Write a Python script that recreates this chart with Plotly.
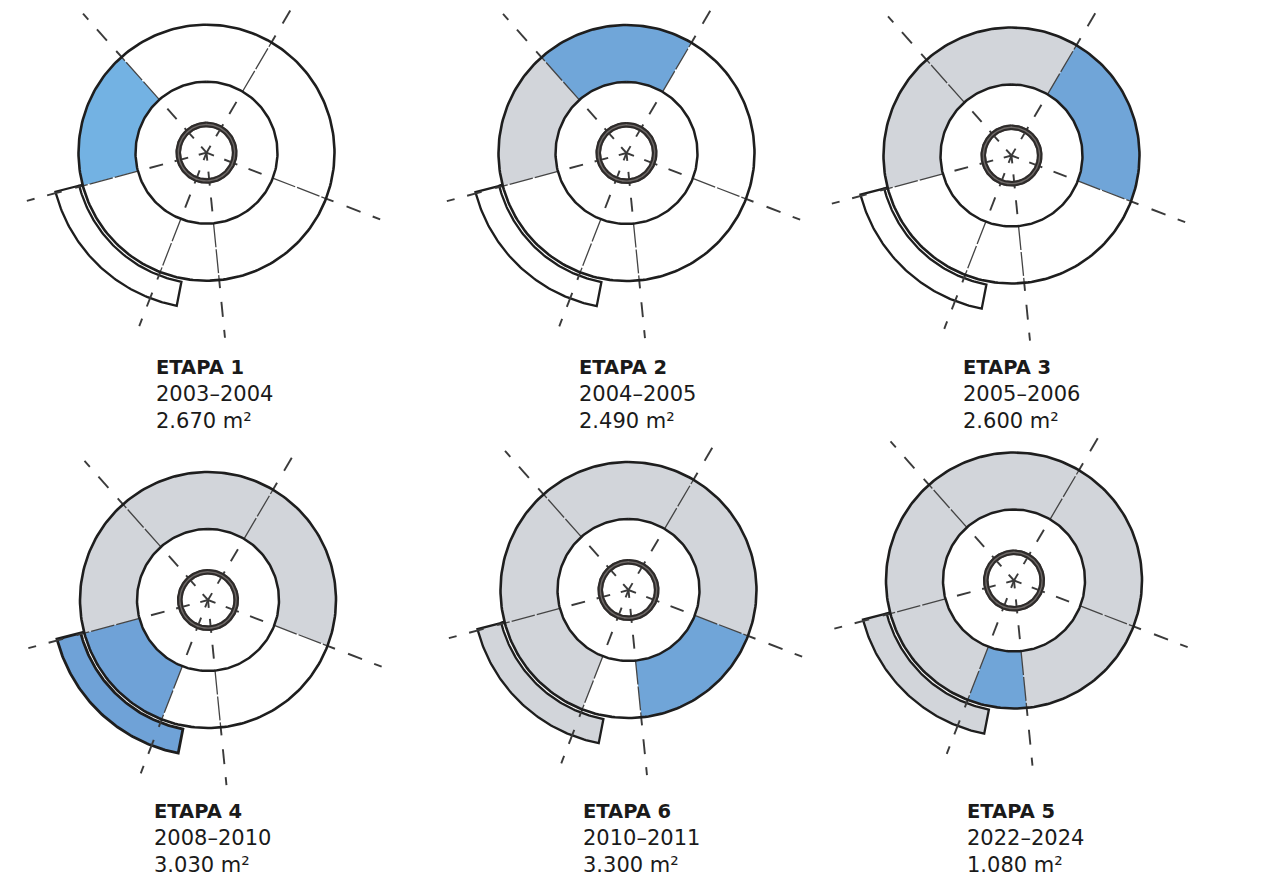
import numpy as np
import plotly.graph_objects as go

W, H = 1267, 879

# panels: label, years, area, centre x, centre y, text x, first text y
labels = ["ETAPA 1", "ETAPA 2", "ETAPA 3", "ETAPA 4", "ETAPA 6", "ETAPA 5"]
years = ["2003–2004", "2004–2005", "2005–2006", "2008–2010", "2010–2011", "2022–2024"]
areas = ["2.670 m²", "2.490 m²", "2.600 m²", "3.030 m²", "3.300 m²", "1.080 m²"]
centre_x = [206.5, 626.5, 1011.5, 208, 628.5, 1014]
centre_y = [152.7, 153, 155.5, 600, 590, 580.5]
text_x = [154, 577, 961, 152, 581, 965]
text_y = [367, 367, 367, 811, 811, 811]

# ring sectors, clockwise from north
sector_start = [255, 318.4, 30.5, 111, 174.3, 201.2]
sector_end = [318.4, 390.5, 111, 174.3, 201.2, 255]
# state per panel per sector: 0 white, 1 grey (built), 2 blue (current)
sector_states = [
    [2, 0, 0, 0, 0, 0],
    [1, 2, 0, 0, 0, 0],
    [1, 1, 2, 0, 0, 0],
    [1, 1, 1, 0, 0, 2],
    [1, 1, 1, 2, 0, 1],
    [1, 1, 1, 1, 2, 1],
]
annex_states = [0, 0, 0, 2, 1, 1]
blue_per_panel = ["#73B2E3", "#70A6D9", "#70A5D8", "#6FA2D7", "#70A5D8", "#70A5D8"]
state_grey = "#D2D5DA"

R_MID, R_OUTER = 71, 128
R_CORE_IN, R_CORE_OUT = 26.5, 30
ANNEX_R_IN, ANNEX_R_OUT = 131.5, 156
ANNEX_T0, ANNEX_T1 = 255.5, 191

spoke_angles = [318.4, 30.5, 111, 174.3, 201.2, 255]
spoke_limits = [186, 166, 186, 186, 186, 186]
dash_segments = [(0, 8), (19, 33), (45, 59), (128, 136), (150, 165), (178, 186)]
thin_segment = (71, 128)

INK = "#1E1E1E"
fig = go.Figure()


def polar_xy(cx, cy, r, theta):
    """radius + clockwise-from-north angle to page-scale x, y"""
    r = np.asarray(r, dtype=float)
    t = np.radians(np.asarray(theta, dtype=float))
    return cx + r * np.sin(t), cy - r * np.cos(t)


def path(x, y, width=0, color=INK, fill=None, dash=None):
    fig.add_trace(go.Scatter(
        x=x, y=y, mode="lines", fill="toself" if fill else None, fillcolor=fill,
        line=dict(color=color, width=width, dash=dash), connectgaps=False,
        hoverinfo="skip", showlegend=False))


def circle(cx, cy, r, width, color=INK):
    t = np.linspace(0, 360, 241)
    x, y = polar_xy(cx, cy, np.full_like(t, r), t)
    path(x, y, width, color)


for i in range(6):
    blue = blue_per_panel[i]
    palette = ["#FFFFFF", state_grey, blue]
    cx, cy = centre_x[i], centre_y[i]

    # ring sectors
    for a, b, s in zip(sector_start, sector_end, sector_states[i]):
        arc = np.linspace(a, b, 60)
        rr = np.r_[np.full(60, R_OUTER), np.full(60, R_MID)]
        tt = np.r_[arc, arc[::-1]]
        x, y = polar_xy(cx, cy, rr, tt)
        path(x, y, 0, palette[s], fill=palette[s])

    # annex outline
    arc = np.linspace(ANNEX_T0, ANNEX_T1, 80)
    ar = np.r_[R_OUTER, np.full(80, ANNEX_R_OUT), np.full(80, ANNEX_R_IN), R_OUTER]
    at = np.r_[ANNEX_T0, arc, arc[::-1], ANNEX_T0]
    x, y = polar_xy(cx, cy, ar, at)
    path(x, y, 2.8 if annex_states[i] == 2 else 2.3, INK, fill=palette[annex_states[i]])

    # spokes
    thin_x, thin_y, dash_x, dash_y = [], [], [], []
    for ang, lim in zip(spoke_angles, spoke_limits):
        x, y = polar_xy(cx, cy, thin_segment, [ang, ang])
        thin_x += [*x, None]
        thin_y += [*y, None]
        for a, b in dash_segments:
            if a >= lim:
                continue
            x, y = polar_xy(cx, cy, [a, min(b, lim)], [ang, ang])
            dash_x += [*x, None]
            dash_y += [*y, None]
    path(thin_x, thin_y, 1.3, "#444444", dash="24px,2px")
    path(dash_x, dash_y, 1.9, "#3A3A3A")

    # rings
    circle(cx, cy, R_MID, 2.5)
    circle(cx, cy, R_OUTER, 2.6)
    circle(cx, cy, (R_CORE_IN + R_CORE_OUT) / 2, 5.5, "#6E6967")
    circle(cx, cy, R_CORE_IN, 2, "#2E2B2A")
    circle(cx, cy, R_CORE_OUT, 2.2, "#2E2B2A")

    # text
    for k, (txt, bold) in enumerate([(labels[i], True), (years[i], False), (areas[i], False)]):
        fig.add_annotation(
            x=text_x[i], y=text_y[i] + 27 * k, xref="x", yref="y",
            xanchor="left", yanchor="middle", showarrow=False, text=txt, align="left",
            font=dict(family="DejaVu Sans", size=19.5 if bold else 21, color="#1a1a1a",
                      weight=600 if bold else 400))

fig.update_layout(
    width=W, height=H, margin=dict(l=0, r=0, t=0, b=0),
    paper_bgcolor="white", plot_bgcolor="white", showlegend=False,
    xaxis=dict(range=[0, W], visible=False, fixedrange=True),
    yaxis=dict(range=[H, 0], visible=False, fixedrange=True),
)
fig.write_html("out.html", config={"displayModeBar": False},
               post_script="document.body.style.margin='0';document.body.style.overflow='hidden';")
